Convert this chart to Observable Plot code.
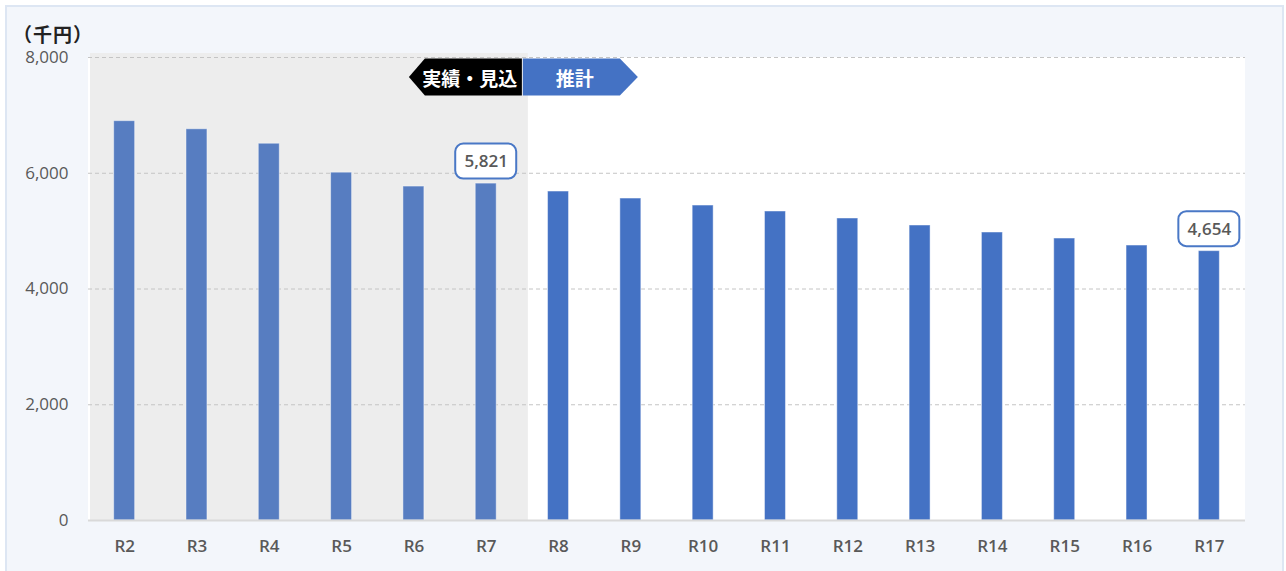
<!DOCTYPE html>
<html><head><meta charset="utf-8">
<script src="https://cdn.jsdelivr.net/npm/d3@7"></script>
<script src="https://cdn.jsdelivr.net/npm/@observablehq/plot@0.6"></script>
<style>
body{margin:0;background:#fff;width:1286px;height:571px;overflow:hidden;position:relative;font-family:"Open Sans","Noto Sans CJK JP",sans-serif}
#frame{position:absolute;left:5px;top:5px;width:1275px;height:600px;border:2px solid #dde6f3;background:#f3f6fb}
#unit{position:absolute;left:13px;top:24px;font-size:19px;line-height:19px;letter-spacing:1px;font-weight:700;color:#222;font-family:"Noto Sans CJK JP",sans-serif}
#chart{position:absolute;left:0;top:0}
</style></head><body>
<div id="frame"></div>
<div id="unit">（千円）</div>
<div id="chart"></div>
<script>
const categories = ["R2","R3","R4","R5","R6","R7","R8","R9","R10","R11","R12","R13","R14","R15","R16","R17"];
const values = [6900, 6760, 6510, 6010, 5770, 5821, 5684, 5563, 5442, 5339, 5218, 5097, 4976, 4872, 4751, 4654];
const phaseLabels = ["実績・見込", "推計"];
const actualCount = 6; // R2–R7 are 実績・見込
const yTicks = [0, 2000, 4000, 6000, 8000];
const labeledCats = ["R7", "R17"];

const PAD = 0.71;
const data = categories.map((c, i) => ({cat: c, value: values[i], phase: i < actualCount ? phaseLabels[0] : phaseLabels[1]}));
const labelData = data.filter(d => labeledCats.includes(d.cat));
const fmt = d3.format(",");

function stepOf(x) { return x(categories[1]) - x(categories[0]); }

function backgroundMark(index, scales, values, dims) {
  const {x, y} = scales;
  const step = stepOf(x);
  const left = dims.marginLeft, right = dims.width - dims.marginRight;
  const top = y(yTicks[yTicks.length - 1]), bottom = y(0);
  const boundary = x(categories[actualCount]) - step * PAD / 2;
  const g = d3.create("svg:g");
  g.append("rect").attr("x", left).attr("y", top).attr("width", right - left).attr("height", bottom - top).attr("fill", "#ffffff");
  g.append("rect").attr("x", left + 2).attr("y", top - 4).attr("width", boundary + 6 - left - 2).attr("height", bottom - top + 4).attr("fill", "#ededed");
  return g.node();
}

function phaseArrows(index, scales, values, dims) {
  const {x, y} = scales;
  const step = stepOf(x);
  const b = x(categories[actualCount]) - step * PAD / 2;
  const cy = y(yTicks[yTicks.length - 1]) + 20;
  const h = 18.5;
  const g = d3.create("svg:g");
  g.append("polygon")
    .attr("points", [[b - 113, cy], [b - 97, cy - h], [b, cy - h], [b, cy + h], [b - 97, cy + h]].map(p => p.join(",")).join(" "))
    .attr("fill", "#000");
  g.append("polygon")
    .attr("points", [[b + 1, cy - h], [b + 98, cy - h], [b + 116, cy], [b + 98, cy + h], [b + 1, cy + h]].map(p => p.join(",")).join(" "))
    .attr("fill", "#4472c4");
  const t = (tx, s) => g.append("text").attr("x", tx).attr("y", cy).attr("text-anchor", "middle")
    .attr("dominant-baseline", "central").attr("fill", "#fff").attr("font-size", 19).attr("font-weight", 700)
    .attr("font-family", '"Noto Sans CJK JP",sans-serif').text(s);
  t(b - 52, phaseLabels[0]);
  t(b + 53, phaseLabels[1]);
  return g.node();
}

function labelBoxes(index, scales) {
  const {x, y} = scales;
  const step = stepOf(x);
  const bw = step * (1 - PAD);
  const g = d3.create("svg:g");
  for (const d of labelData) {
    const cx = x(d.cat) + bw / 2;
    const cy = y(d.value) - 22;
    g.append("rect").attr("x", cx - 30.5).attr("y", cy - 17.5).attr("width", 61).attr("height", 35)
      .attr("rx", 8).attr("fill", "#fff").attr("stroke", "#4a78c6").attr("stroke-width", 2);
  }
  return g.node();
}

const chart = Plot.plot({
  width: 1286,
  height: 571,
  marginLeft: 88,
  marginRight: 41,
  marginTop: 57,
  marginBottom: 51,
  style: {background: "transparent", fontFamily: '"Open Sans","Noto Sans CJK JP",sans-serif', overflow: "visible"},
  x: {domain: categories, paddingInner: PAD, paddingOuter: PAD / 2, round: false, axis: null},
  y: {domain: [0, 8000], axis: null},
  marks: [
    backgroundMark,
    Plot.gridY(yTicks.slice(1), {stroke: "#c4c4c4", strokeOpacity: 1, strokeDasharray: "4,3", strokeWidth: 1}),
    Plot.barY(data.filter(d => d.phase === phaseLabels[0]), {x: "cat", y: "value", fill: "#577dc1", stroke: "#ffffff", strokeOpacity: 0.45, strokeWidth: 1}),
    Plot.barY(data.filter(d => d.phase === phaseLabels[1]), {x: "cat", y: "value", fill: "#4472c4", stroke: "#ffffff", strokeOpacity: 0.45, strokeWidth: 1}),
    Plot.ruleY([0], {stroke: "#d9d9d9", strokeWidth: 2}),
    Plot.axisY(yTicks, {tickSize: 0, tickPadding: 20, tickFormat: fmt, fontSize: 17, fill: "#595959", label: null}),
    Plot.axisX({tickSize: 0, tickPadding: 19, fontSize: 17, fontWeight: 600, fill: "#595959", label: null}),
    phaseArrows,
    labelBoxes,
    Plot.text(labelData, {x: "cat", y: "value", text: d => fmt(d.value), dy: -22, fontSize: 17, fontWeight: 600, fill: "#595959"})
  ]
});
document.getElementById("chart").appendChild(chart);
</script>
</body></html>
